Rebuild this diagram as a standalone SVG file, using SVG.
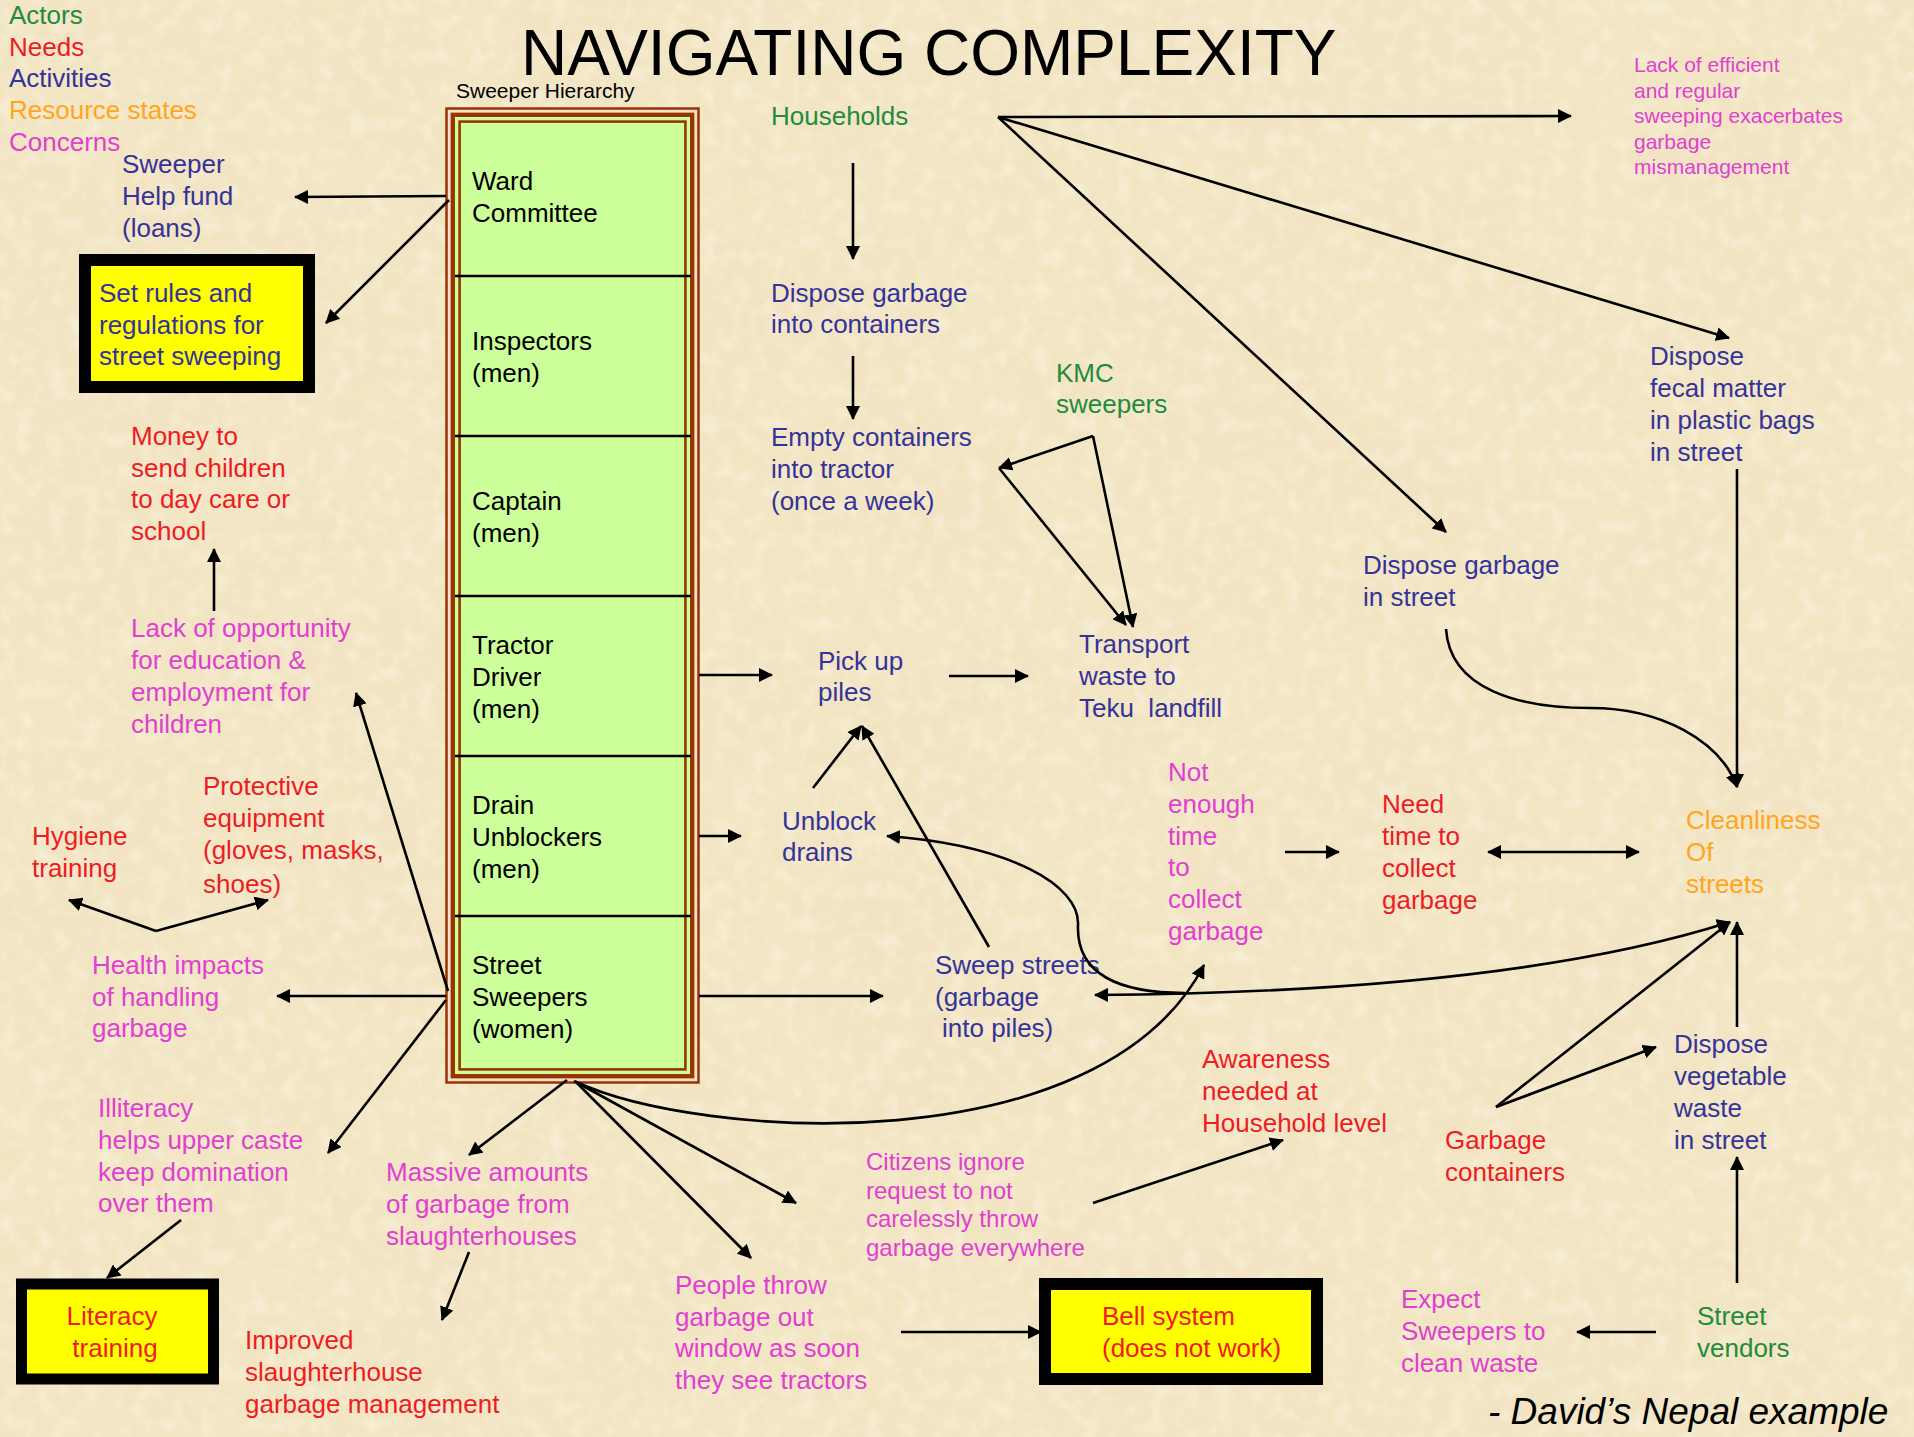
<svg xmlns="http://www.w3.org/2000/svg" width="1914" height="1437" viewBox="0 0 1914 1437">
<defs>
<style>
text{font-family:"Liberation Sans",Arial,sans-serif;font-size:26px}
.gr{fill:#228B3C}.rd{fill:#ED1C24}.bl{fill:#333399}.or{fill:#FFA520}.mg{fill:#E03FD0}.bk{fill:#000}
.c line,.c path{stroke:#000;stroke-width:2.6;fill:none}
.a{marker-end:url(#ah)}
.ab{marker-start:url(#ah);marker-end:url(#ah)}
.as{marker-start:url(#ah)}
.yb{fill:#FFFF00;stroke:#000}
.div{stroke:#000;stroke-width:2.6}
</style>
<marker id="ah" viewBox="0 0 14 14" refX="13" refY="7" markerWidth="14" markerHeight="14" markerUnits="userSpaceOnUse" orient="auto-start-reverse">
<path d="M0,0 L14,7 L0,14 z" fill="#000"/>
</marker>
<filter id="paper" x="0" y="0" width="100%" height="100%">
<feTurbulence type="fractalNoise" baseFrequency="0.006 0.008" numOctaves="4" seed="7" result="n"/>
<feColorMatrix in="n" type="matrix" values="0 0 0 0 0.88  0 0 0 0 0.74  0 0 0 0 0.54  1.4 0 0 0 -0.68"/>
</filter>
<filter id="speck" x="0" y="0" width="100%" height="100%">
<feTurbulence type="fractalNoise" baseFrequency="0.06" numOctaves="2" seed="3"/>
<feColorMatrix type="matrix" values="0 0 0 0 1  0 0 0 0 0.98  0 0 0 0 0.9  1.4 0 0 0 -0.62"/>
</filter>
</defs>
<rect width="1914" height="1437" fill="#F2E5C3"/>
<rect width="1914" height="1437" filter="url(#paper)" opacity="0.75"/>
<rect width="1914" height="1437" filter="url(#speck)" opacity="0.6"/>

<g id="title"><text x="521" y="75" class="bk" style="font-size:64px">NAVIGATING COMPLEXITY</text></g>

<g id="legend">
<text x="9" y="24" class="gr">Actors</text>
<text x="9" y="56" class="rd">Needs</text>
<text x="9" y="87" class="bl">Activities</text>
<text x="9" y="119" class="or">Resource states</text>
<text x="9" y="151" class="mg">Concerns</text>
</g>

<g id="hierarchy">
<text x="456" y="98" class="bk" style="font-size:21px">Sweeper Hierarchy</text>
<rect x="446.5" y="108.5" width="252" height="974" fill="#F3E2CB" stroke="#993300" stroke-width="2.5"/>
<rect x="452.8" y="114.8" width="239.4" height="961.4" fill="#CCFF99" stroke="#993300" stroke-width="4.3"/>
<rect x="459.6" y="121.6" width="225.8" height="947.8" fill="#CCFF99" stroke="#993300" stroke-width="2.6"/>
<line class="div" x1="455" y1="276" x2="691" y2="276"/>
<line class="div" x1="455" y1="436" x2="691" y2="436"/>
<line class="div" x1="455" y1="596" x2="691" y2="596"/>
<line class="div" x1="455" y1="756" x2="691" y2="756"/>
<line class="div" x1="455" y1="916" x2="691" y2="916"/>
<g id="ward"><text class="bk"><tspan x="472" y="190">Ward</tspan><tspan x="472" y="222">Committee</tspan></text></g>
<g id="inspectors"><text class="bk"><tspan x="472" y="350">Inspectors</tspan><tspan x="472" y="382">(men)</tspan></text></g>
<g id="captain"><text class="bk"><tspan x="472" y="510">Captain</tspan><tspan x="472" y="542">(men)</tspan></text></g>
<g id="tractor"><text class="bk"><tspan x="472" y="654">Tractor</tspan><tspan x="472" y="686">Driver</tspan><tspan x="472" y="718">(men)</tspan></text></g>
<g id="drain"><text class="bk"><tspan x="472" y="814">Drain</tspan><tspan x="472" y="846">Unblockers</tspan><tspan x="472" y="878">(men)</tspan></text></g>
<g id="sweepers"><text class="bk"><tspan x="472" y="974">Street</tspan><tspan x="472" y="1006">Sweepers</tspan><tspan x="472" y="1038">(women)</tspan></text></g>
</g>

<g id="helpfund"><text class="bl"><tspan x="122" y="173">Sweeper</tspan><tspan x="122" y="205">Help fund</tspan><tspan x="122" y="237">(loans)</tspan></text></g>
<g id="setrules"><rect class="yb" x="85" y="260" width="224" height="127" stroke-width="12"/>
<text class="bl"><tspan x="99" y="302">Set rules and</tspan><tspan x="99" y="334">regulations for</tspan><tspan x="99" y="365">street sweeping</tspan></text></g>
<g id="money"><text class="rd"><tspan x="131" y="445">Money to</tspan><tspan x="131" y="477">send children</tspan><tspan x="131" y="508">to day care or</tspan><tspan x="131" y="540">school</tspan></text></g>
<g id="lackopp"><text class="mg"><tspan x="131" y="637">Lack of opportunity</tspan><tspan x="131" y="669">for education &amp;</tspan><tspan x="131" y="701">employment for</tspan><tspan x="131" y="733">children</tspan></text></g>
<g id="protective"><text class="rd"><tspan x="203" y="795">Protective</tspan><tspan x="203" y="827">equipment</tspan><tspan x="203" y="859">(gloves, masks,</tspan><tspan x="203" y="893">shoes)</tspan></text></g>
<g id="hygiene"><text class="rd"><tspan x="32" y="845">Hygiene</tspan><tspan x="32" y="877">training</tspan></text></g>
<g id="health"><text class="mg"><tspan x="92" y="974">Health impacts</tspan><tspan x="92" y="1006">of handling</tspan><tspan x="92" y="1037">garbage</tspan></text></g>
<g id="illiteracy"><text class="mg"><tspan x="98" y="1117">Illiteracy</tspan><tspan x="98" y="1149">helps upper caste</tspan><tspan x="98" y="1181">keep domination</tspan><tspan x="98" y="1212">over them</tspan></text></g>
<g id="literacy"><rect class="yb" x="21.5" y="1284" width="192" height="95" stroke-width="11"/>
<text class="rd" text-anchor="middle"><tspan x="112" y="1325">Literacy</tspan><tspan x="115" y="1357">training</tspan></text></g>
<g id="massive"><text class="mg"><tspan x="386" y="1181">Massive amounts</tspan><tspan x="386" y="1213">of garbage from</tspan><tspan x="386" y="1245">slaughterhouses</tspan></text></g>
<g id="improved"><text class="rd"><tspan x="245" y="1349">Improved</tspan><tspan x="245" y="1381">slaughterhouse</tspan><tspan x="245" y="1413">garbage management</tspan></text></g>
<g id="people"><text class="mg"><tspan x="675" y="1294">People throw</tspan><tspan x="675" y="1326">garbage out</tspan><tspan x="675" y="1357">window as soon</tspan><tspan x="675" y="1389">they see tractors</tspan></text></g>
<g id="bell"><rect class="yb" x="1045" y="1284" width="272" height="95" stroke-width="12"/>
<text class="rd"><tspan x="1102" y="1325">Bell system</tspan><tspan x="1102" y="1357">(does not work)</tspan></text></g>
<g id="citizens"><text class="mg" style="font-size:24px"><tspan x="866" y="1170">Citizens ignore</tspan><tspan x="866" y="1198.5">request to not</tspan><tspan x="866" y="1227">carelessly throw</tspan><tspan x="866" y="1255.5">garbage everywhere</tspan></text></g>
<g id="awareness"><text class="rd"><tspan x="1202" y="1068">Awareness</tspan><tspan x="1202" y="1100">needed at</tspan><tspan x="1202" y="1132">Household level</tspan></text></g>
<g id="containers"><text class="rd"><tspan x="1445" y="1149">Garbage</tspan><tspan x="1445" y="1181">containers</tspan></text></g>
<g id="vegetable"><text class="bl"><tspan x="1674" y="1053">Dispose</tspan><tspan x="1674" y="1085">vegetable</tspan><tspan x="1674" y="1117">waste</tspan><tspan x="1674" y="1149">in street</tspan></text></g>
<g id="vendors"><text class="gr"><tspan x="1697" y="1325">Street</tspan><tspan x="1697" y="1357">vendors</tspan></text></g>
<g id="expect"><text class="mg"><tspan x="1401" y="1308">Expect</tspan><tspan x="1401" y="1340">Sweepers to</tspan><tspan x="1401" y="1372">clean waste</tspan></text></g>
<g id="credit"><text x="1488" y="1424" class="bk" style="font-size:37px;font-style:italic">- David’s Nepal example</text></g>

<g id="households"><text x="771" y="125" class="gr">Households</text></g>
<g id="disposecont"><text class="bl"><tspan x="771" y="302">Dispose garbage</tspan><tspan x="771" y="333">into containers</tspan></text></g>
<g id="empty"><text class="bl"><tspan x="771" y="446">Empty containers</tspan><tspan x="771" y="478">into tractor</tspan><tspan x="771" y="510">(once a week)</tspan></text></g>
<g id="kmc"><text class="gr"><tspan x="1056" y="382">KMC</tspan><tspan x="1056" y="413">sweepers</tspan></text></g>
<g id="transport"><text class="bl" xml:space="preserve"><tspan x="1079" y="653">Transport</tspan><tspan x="1079" y="685">waste to</tspan><tspan x="1079" y="717">Teku  landfill</tspan></text></g>
<g id="pickup"><text class="bl"><tspan x="818" y="670">Pick up</tspan><tspan x="818" y="701">piles</tspan></text></g>
<g id="unblock"><text class="bl"><tspan x="782" y="830">Unblock</tspan><tspan x="782" y="861">drains</tspan></text></g>
<g id="sweep"><text class="bl"><tspan x="935" y="974">Sweep streets</tspan><tspan x="935" y="1006">(garbage</tspan><tspan x="942" y="1037">into piles)</tspan></text></g>
<g id="notenough"><text class="mg"><tspan x="1168" y="781">Not</tspan><tspan x="1168" y="813">enough</tspan><tspan x="1168" y="845">time</tspan><tspan x="1168" y="876">to</tspan><tspan x="1168" y="908">collect</tspan><tspan x="1168" y="940">garbage</tspan></text></g>
<g id="needtime"><text class="rd"><tspan x="1382" y="813">Need</tspan><tspan x="1382" y="845">time to</tspan><tspan x="1382" y="877">collect</tspan><tspan x="1382" y="909">garbage</tspan></text></g>
<g id="cleanliness"><text class="or"><tspan x="1686" y="829">Cleanliness</tspan><tspan x="1686" y="861">Of</tspan><tspan x="1686" y="893">streets</tspan></text></g>
<g id="disposestreet"><text class="bl"><tspan x="1363" y="574">Dispose garbage</tspan><tspan x="1363" y="606">in street</tspan></text></g>
<g id="fecal"><text class="bl"><tspan x="1650" y="365">Dispose</tspan><tspan x="1650" y="397">fecal matter</tspan><tspan x="1650" y="429">in plastic bags</tspan><tspan x="1650" y="461">in street</tspan></text></g>
<g id="lackeff"><text class="mg" style="font-size:21px"><tspan x="1634" y="72">Lack of efficient</tspan><tspan x="1634" y="97.5">and regular</tspan><tspan x="1634" y="123">sweeping exacerbates</tspan><tspan x="1634" y="148.5">garbage</tspan><tspan x="1634" y="174">mismanagement</tspan></text></g>

<g id="connectors" class="c">
<line class="a" x1="446" y1="196" x2="295" y2="197"/>
<line class="a" x1="449" y1="200" x2="326" y2="323"/>
<line class="a" x1="214" y1="611" x2="214" y2="549"/>
<line class="a" x1="156" y1="931" x2="69" y2="900"/>
<line class="a" x1="156" y1="931" x2="268" y2="900"/>
<line class="a" x1="446" y1="996" x2="277" y2="996"/>
<line class="a" x1="448" y1="991" x2="356" y2="693"/>
<line class="a" x1="446" y1="1000" x2="328" y2="1153"/>
<line class="a" x1="181" y1="1220" x2="107" y2="1278"/>
<line class="a" x1="567" y1="1080" x2="469" y2="1155"/>
<line class="a" x1="469" y1="1252" x2="442" y2="1320"/>
<line class="a" x1="576" y1="1082" x2="751" y2="1258"/>
<line class="a" x1="576" y1="1082" x2="796" y2="1203"/>
<path class="a" d="M574 1081 C700 1140 1100 1165 1204 965"/>
<line class="a" x1="1093" y1="1203" x2="1283" y2="1140"/>
<line class="a" x1="901" y1="1332" x2="1041" y2="1332"/>
<line class="a" x1="853" y1="163" x2="853" y2="259"/>
<line class="a" x1="853" y1="356" x2="853" y2="419"/>
<line class="a" x1="998" y1="117" x2="1571" y2="116"/>
<line class="a" x1="998" y1="117" x2="1729" y2="338"/>
<line class="a" x1="998" y1="117" x2="1446" y2="532"/>
<line class="a" x1="1093" y1="436" x2="999" y2="468"/>
<line class="a" x1="999" y1="468" x2="1126" y2="625"/>
<line class="a" x1="1093" y1="436" x2="1133" y2="627"/>
<line class="a" x1="699" y1="675" x2="772" y2="675"/>
<line class="a" x1="949" y1="676" x2="1028" y2="676"/>
<line class="a" x1="699" y1="836" x2="741" y2="836"/>
<line class="a" x1="813" y1="788" x2="861" y2="726"/>
<line class="a" x1="989" y1="947" x2="862" y2="726"/>
<line class="a" x1="699" y1="996" x2="883" y2="996"/>
<path class="ab" d="M1095 995 Q1510 992 1730 922"/>
<path class="as" d="M887 836 C1010 845 1080 885 1078 925 C1076 975 1120 993 1185 993"/>
<line class="a" x1="1285" y1="852" x2="1339" y2="852"/>
<line class="ab" x1="1488" y1="852" x2="1639" y2="852"/>
<path class="a" d="M1446 629 C1450 690 1520 708 1590 708 C1660 708 1720 740 1737 787"/>
<line class="a" x1="1737" y1="469" x2="1737" y2="787"/>
<line class="a" x1="1496" y1="1107" x2="1656" y2="1047"/>
<line class="a" x1="1496" y1="1107" x2="1730" y2="922"/>
<line class="a" x1="1737" y1="1027" x2="1737" y2="922"/>
<line class="a" x1="1737" y1="1283" x2="1737" y2="1157"/>
<line class="a" x1="1656" y1="1332" x2="1577" y2="1332"/>
</g>
</svg>
